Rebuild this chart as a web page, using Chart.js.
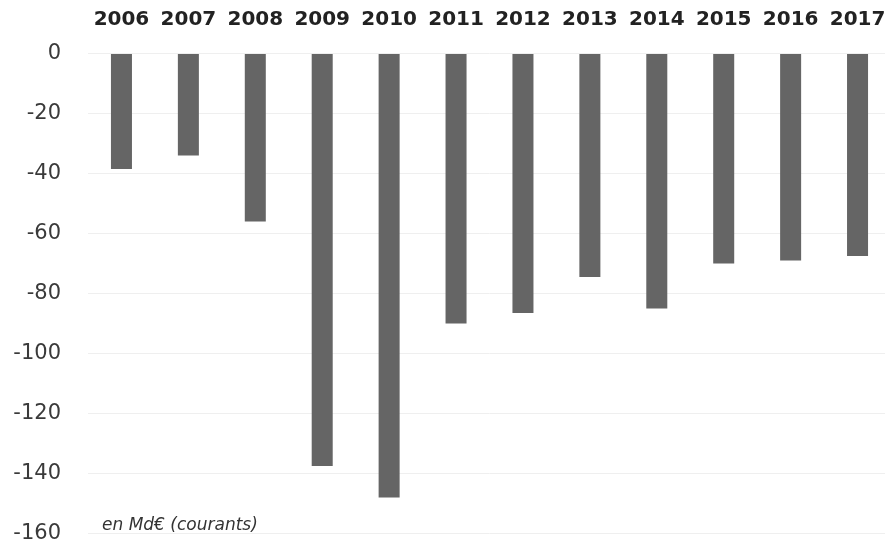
<!DOCTYPE html>
<html>
<head>
<meta charset="utf-8">
<script src="https://cdn.jsdelivr.net/npm/chart.js@4"></script>
<style>
  html, body { margin: 0; padding: 0; background: #ffffff; overflow: hidden; }
  #wrap { position: relative; width: 891px; height: 544px; }
  #unit {
    position: absolute; left: 102px; top: 514px;
    font: italic 17px "DejaVu Sans", sans-serif; color: #333333;
    white-space: nowrap;
  }
</style>
</head>
<body>
<div id="wrap">
  <canvas id="c"></canvas>
  <div id="unit">en Md€ (courants)</div>
</div>
<script>
// Annual balance, billions of current euros
const years = ['2006', '2007', '2008', '2009', '2010', '2011', '2012', '2013', '2014', '2015', '2016', '2017'];
const balance = [-38.5, -34, -56, -137.5, -148, -90, -86.5, -74.5, -85, -70, -69, -67.5];
const yTicks = [0, -20, -40, -60, -80, -100, -120, -140, -160];

new Chart(document.getElementById('c'), {
  type: 'bar',
  data: {
    labels: years,
    datasets: [{
      data: balance,
      backgroundColor: '#656565',
      borderWidth: 0,
      barPercentage: 0.314,
      categoryPercentage: 1.0
    }]
  },
  options: {
    responsive: true,
    maintainAspectRatio: false,
    animation: false,
    layout: { padding: { left: 0, top: 0, right: 0, bottom: 10.5 } },
    plugins: { legend: { display: false }, tooltip: { enabled: false } },
    scales: {
      x: {
        position: 'top',
        offset: true,
        grid: { display: false, drawTicks: false },
        border: { display: false },
        ticks: {
          padding: 22,
          color: '#222222',
          font: { family: 'DejaVu Sans', size: 20, weight: 'bold' },
          maxRotation: 0, autoSkip: false
        },
        afterFit: (s) => {
          s.height = 53.5;
          s.paddingLeft = 0;
          s.paddingRight = 0;
        }
      },
      y: {
        min: yTicks[yTicks.length - 1],
        max: yTicks[0],
        afterBuildTicks: (s) => { s.ticks = yTicks.map(v => ({ value: v })); },
        grid: { color: '#efefef', lineWidth: 1, drawTicks: false },
        border: { display: false },
        ticks: {
          padding: 27,
          color: '#3a3a3a',
          font: { family: 'DejaVu Sans', size: 21 }
        },
        afterFit: (s) => {
          s.width = 88;
          s.paddingTop = 0;
          s.paddingBottom = 0;
        }
      }
    }
  }
});
</script>
</body>
</html>
